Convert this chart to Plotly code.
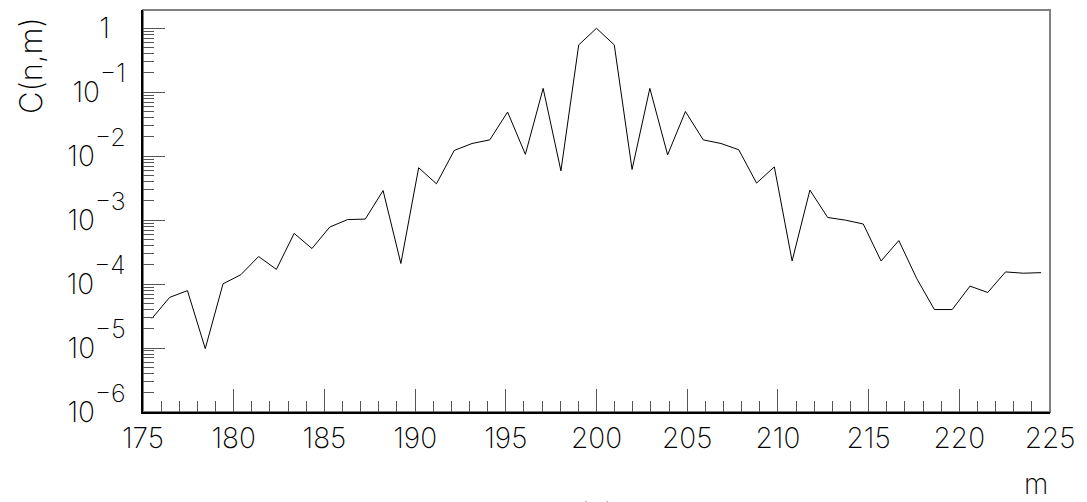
"""C(n,m) against m on a log scale, ROOT-like frame."""
import plotly.graph_objects as go

# 51 bins over [175, 225]; one value per bin
m_lo, m_hi, n_bins = 175, 225, 51
c_nm = [
    2.9e-5, 6.2e-5, 7.9e-5, 9.8e-6, 1.01e-4, 1.40e-4, 2.7e-4, 1.70e-4,
    6.2e-4, 3.6e-4, 7.8e-4, 1.02e-3, 1.04e-3, 2.9e-3, 2.1e-4, 6.6e-3,
    3.7e-3, 1.23e-2, 1.58e-2, 1.80e-2, 4.9e-2, 1.07e-2, 1.15e-1, 5.9e-3,
    5.5e-1, 1.0, 5.5e-1, 6.2e-3, 1.15e-1, 1.05e-2, 5.0e-2, 1.80e-2,
    1.58e-2, 1.26e-2, 3.8e-3, 6.8e-3, 2.3e-4, 2.95e-3, 1.10e-3, 1.0e-3,
    8.7e-4, 2.3e-4, 4.8e-4, 1.23e-4, 4.0e-5, 4.0e-5, 9.3e-5, 7.4e-5,
    1.55e-4, 1.48e-4, 1.51e-4,
]
bin_w = (m_hi - m_lo) / n_bins
m_centres = [m_lo + (i + 0.5) * bin_w for i in range(n_bins)]

y_major = [1e-6, 1e-5, 1e-4, 1e-3, 1e-2, 1e-1, 1]
y_exps = ["−6", "−5", "−4", "−3", "−2", "−1"]
# ROOT draws the exponent nearly full size and well above the base
y_labels = [f"10<sup><sup><span style='font-size:25px'>{e}</span></sup></sup>" for e in y_exps]
y_labels.append("1\u00a0\u00a0")
y_minor = [k * d for d in y_major[:-1] for k in range(2, 10)]
x_major = list(range(175, 226, 5))

FONT = dict(family="Inter", size=28, color="#000000", weight=200)
TITLE_FONT = dict(FONT, size=31)

fig = go.Figure()
fig.add_trace(go.Scatter(x=m_centres, y=c_nm, mode="lines",
                         line=dict(color="#000000", width=1), hoverinfo="skip"))

fig.update_xaxes(
    range=[175, 225], tickvals=x_major, ticktext=[str(v) for v in x_major],
    ticks="inside", ticklen=23, tickwidth=1, tickcolor="#555555",
    minor=dict(dtick=1, tick0=175, ticks="inside", ticklen=11, tickwidth=1, tickcolor="#555555"),
    showline=True, linecolor="#000000", linewidth=1.5,
    showgrid=False, zeroline=False, tickfont=FONT, ticklabelstandoff=1,
)
fig.update_yaxes(
    type="log", range=[-6, 0.286], tickvals=y_major, ticktext=y_labels,
    ticks="inside", ticklen=22, tickwidth=1, tickcolor="#555555",
    minor=dict(tickvals=y_minor, ticks="inside", ticklen=11, tickwidth=1, tickcolor="#555555"),
    showline=True, linecolor="#000000", linewidth=1.5,
    showgrid=False, zeroline=False, tickfont=FONT, ticklabelstandoff=10,
)

# grey top / right frame
fig.add_shape(type="rect", xref="paper", yref="paper", x0=0, x1=1, y0=0, y1=1,
              line=dict(color="#808080", width=2), layer="below")

fig.add_annotation(text="C(n,m)", xref="paper", yref="paper", x=-0.1246, y=0.863,
                   xanchor="center", yanchor="middle", textangle=-90,
                   showarrow=False, font=TITLE_FONT)
fig.add_annotation(text="m", xref="paper", yref="paper", x=0.985, y=-0.18,
                   xanchor="center", yanchor="middle", showarrow=False, font=FONT)
fig.add_annotation(text="(n)", xref="paper", yref="paper", x=0.5, y=-0.203,
                   xanchor="center", yanchor="top", showarrow=False, font=FONT)

fig.update_layout(
    width=1087, height=502, showlegend=False,
    margin=dict(l=143, r=37, t=10, b=90),
    plot_bgcolor="#ffffff", paper_bgcolor="#ffffff",
)
fig.write_html("out.html", config={"displayModeBar": False},
               post_script="document.body.style.margin='0';")
